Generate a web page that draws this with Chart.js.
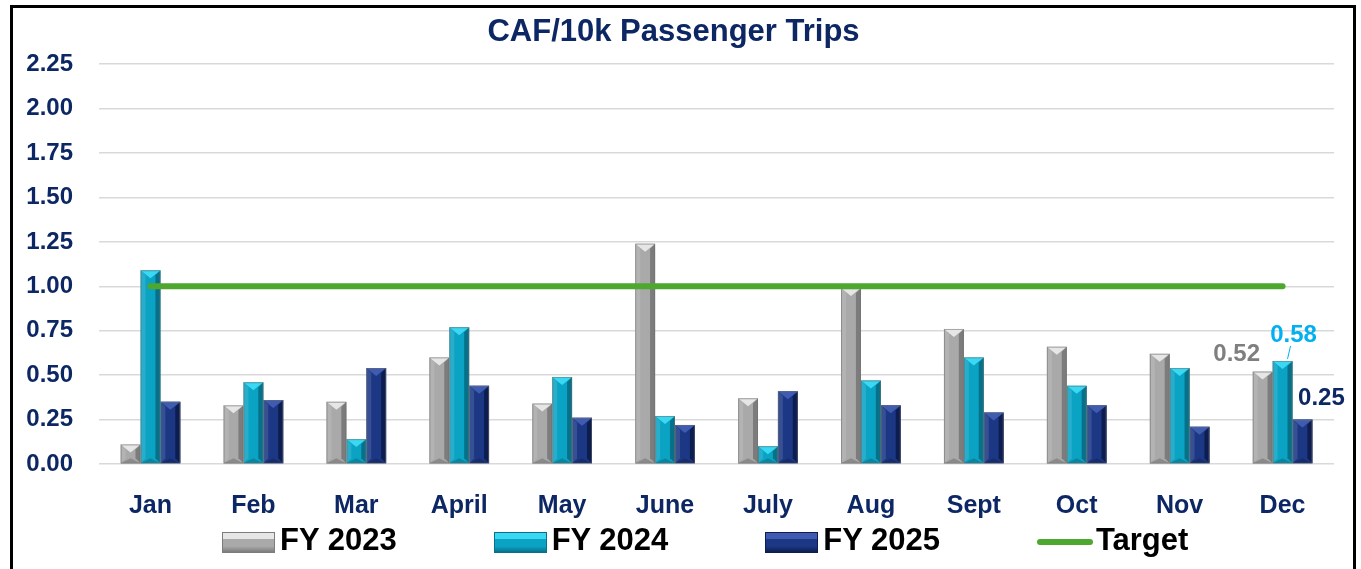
<!DOCTYPE html>
<html>
<head>
<meta charset="utf-8">
<script src="https://cdn.jsdelivr.net/npm/chart.js@4.4.1/dist/chart.umd.min.js"></script>
<style>
  html, body { margin:0; padding:0; background:#fff; overflow:hidden; width:1361px; height:569px; }
  #frame { position:absolute; left:10px; top:5px; width:1346px; height:620px; box-sizing:border-box;
           border-left:3px solid #000; border-top:3px solid #000; border-right:3px solid #000; }
  #c { position:absolute; left:0; top:0; }
  #legend { position:absolute; left:209px; top:516px; display:flex; align-items:flex-start;
            font-family:"Liberation Sans", Arial, sans-serif; font-weight:bold; font-size:31px; line-height:31px; color:#000; }
  .item { display:flex; align-items:flex-start; margin-right:97px; white-space:nowrap; }
  .box { width:53px; height:21px; margin-top:8px; margin-right:5px; box-sizing:border-box; position:relative; }
  .line { width:56px; height:6px; border-radius:3px; margin-top:15px; margin-right:3px; }
</style>
</head>
<body>
<div id="frame">
  <canvas id="c" width="1340" height="517"></canvas>
  <div id="legend"></div>
</div>
<script>
// ---- data ----
const months = ['Jan','Feb','Mar','April','May','June','July','Aug','Sept','Oct','Nov','Dec'];
const fy2023 = [0.11, 0.33, 0.35, 0.60, 0.34, 1.24, 0.37, 0.99, 0.76, 0.66, 0.62, 0.52];
const fy2024 = [1.09, 0.46, 0.14, 0.77, 0.49, 0.27, 0.10, 0.47, 0.60, 0.44, 0.54, 0.58];
const fy2025 = [0.35, 0.36, 0.54, 0.44, 0.26, 0.22, 0.41, 0.33, 0.29, 0.33, 0.21, 0.25];
const target = [1.00, 1.00, 1.00, 1.00, 1.00, 1.00, 1.00, 1.00, 1.00, 1.00, 1.00, 1.00];
const yTicks = [0, 0.25, 0.5, 0.75, 1.0, 1.25, 1.5, 1.75, 2.0, 2.25];
const seriesNames = ['FY 2023', 'FY 2024', 'FY 2025', 'Target'];
const chartTitle = 'CAF/10k Passenger Trips';

// ---- styles ----
const NAVY_TEXT = '#0c2764';
const FONT = '"Liberation Sans", Arial, sans-serif';
const barColors = ['#a9a9a9', '#0ba3c4', '#1c3784'];
const barLight  = ['#e6e6e6', '#3ad8f2', '#3f5cb0'];
const barDark   = ['#7c7c7c', '#07718a', '#0d1d4f'];
const labelColors = ['#7f7f7f', '#00b0f0', NAVY_TEXT];
const labelOffsets = [[-26, -17], [11, -26], [19, -21]];

const bevelPlugin = {
  id: 'bevel',
  afterDatasetDraw(chart, args) {
    const meta = args.meta;
    if (meta.type !== 'bar') return;
    const di = meta.index;
    const ctx = chart.ctx;
    meta.data.forEach(bar => {
      const p = bar.getProps(['x', 'y', 'base', 'width'], true);
      const L = p.x - p.width / 2, R = p.x + p.width / 2;
      const T = Math.min(p.y, p.base), B = Math.max(p.y, p.base);
      const h = B - T;
      const d = Math.min(5, h / 2, p.width / 2);
      ctx.save();
      const poly = (pts, fill) => {
        ctx.beginPath(); ctx.moveTo(pts[0][0], pts[0][1]);
        for (let i = 1; i < pts.length; i++) ctx.lineTo(pts[i][0], pts[i][1]);
        ctx.closePath(); ctx.fillStyle = fill; ctx.fill();
      };
      poly([[L, T], [L + d, T + d], [L + d, B - d], [L, B]], 'rgba(255,255,255,0.12)');
      poly([[R, T], [R - d, T + d], [R - d, B - d], [R, B]], barDark[di]);
      const th = Math.min(8, h);
      poly([[L, T], [R, T], [p.x, T + th]], barLight[di]);
      const bh = Math.min(5, h / 2);
      poly([[L, B], [R, B], [p.x, B - bh]], 'rgba(0,0,0,0.18)');
      ctx.strokeStyle = 'rgba(110,110,110,0.55)';
      ctx.lineWidth = 1;
      ctx.strokeRect(L + 0.5, T + 0.5, p.width - 1, h - 0.5);
      ctx.restore();
    });
  }
};

const decLabelPlugin = {
  id: 'decLabels',
  afterDatasetsDraw(chart) {
    const ctx = chart.ctx;
    const last = months.length - 1;
    [0, 1, 2].forEach(di => {
      const meta = chart.getDatasetMeta(di);
      const bar = meta.data[last];
      const val = chart.data.datasets[di].data[last];
      const [dx, dy] = labelOffsets[di];
      ctx.save();
      ctx.font = 'bold 24px ' + FONT;
      ctx.fillStyle = labelColors[di];
      ctx.textAlign = 'center';
      ctx.textBaseline = 'middle';
      ctx.fillText(val.toFixed(2), bar.x + dx, bar.y + dy);
      if (di === 1) {
        ctx.strokeStyle = labelColors[di];
        ctx.lineWidth = 1;
        ctx.beginPath();
        ctx.moveTo(bar.x + 5, bar.y - 2);
        ctx.lineTo(bar.x + 8, bar.y - 15);
        ctx.stroke();
      }
      ctx.restore();
    });
  }
};

const chart = new Chart(document.getElementById('c'), {
  data: {
    labels: months,
    datasets: [
      { type: 'bar', label: seriesNames[0], data: fy2023, backgroundColor: barColors[0], order: 1 },
      { type: 'bar', label: seriesNames[1], data: fy2024, backgroundColor: barColors[1], order: 1 },
      { type: 'bar', label: seriesNames[2], data: fy2025, backgroundColor: barColors[2], order: 1 },
      { type: 'line', label: seriesNames[3], data: target, borderColor: '#4ea72e', borderWidth: 6,
        borderCapStyle: 'round', pointRadius: 0, fill: false, order: 0 }
    ]
  },
  options: {
    responsive: false,
    animation: false,
    layout: { padding: { left: 0, right: 19, top: 0, bottom: 0 } },
    datasets: { bar: { categoryPercentage: 0.58, barPercentage: 1.0 } },
    plugins: {
      legend: { display: false },
      tooltip: { enabled: false },
      title: {
        display: true, text: chartTitle, color: NAVY_TEXT,
        font: { family: FONT, size: 31, weight: 'bold', lineHeight: 1.2 },
        padding: { top: 6, bottom: 13 }
      }
    },
    scales: {
      x: {
        grid: { display: false, drawTicks: false },
        border: { display: false },
        ticks: { color: NAVY_TEXT, font: { family: FONT, size: 25, weight: 'bold' }, padding: 27, maxRotation: 0, autoSkip: false },
        afterFit(s) { s.height = 61; }
      },
      y: {
        min: 0, max: 2.25,
        afterBuildTicks(s) { s.ticks = yTicks.map(v => ({ value: v })); },
        grid: { color: '#d9d9d9', lineWidth: 1.5, drawTicks: false },
        border: { display: false },
        ticks: { color: NAVY_TEXT, font: { family: FONT, size: 24, weight: 'bold' }, padding: 26,
                 callback: v => Number(v).toFixed(2) },
        afterFit(s) { s.width = 86; }
      }
    }
  },
  plugins: [bevelPlugin, decLabelPlugin]
});

// ---- HTML legend built from datasets ----
const legendEl = document.getElementById('legend');
chart.data.datasets.forEach((ds, i) => {
  const item = document.createElement('div');
  item.className = 'item';
  if (i === chart.data.datasets.length - 1) item.style.marginRight = '0';
  const sw = document.createElement('div');
  if (ds.type === 'bar') {
    sw.className = 'box';
    sw.style.background = `linear-gradient(to bottom, ${barLight[i]} 0%, ${barLight[i]} 30%, ${barColors[i]} 31%, ${barColors[i]} 70%, ${barDark[i]} 100%)`;
    sw.style.border = '1px solid ' + barDark[i];
  } else {
    sw.className = 'line';
    sw.style.background = ds.borderColor;
  }
  const tx = document.createElement('span');
  tx.textContent = ds.label;
  item.appendChild(sw); item.appendChild(tx);
  legendEl.appendChild(item);
});
</script>
</body>
</html>
